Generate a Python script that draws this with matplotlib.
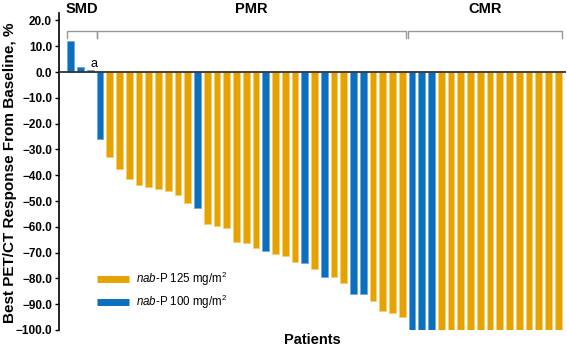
import numpy as np
import matplotlib.pyplot as plt
from matplotlib.lines import Line2D
from matplotlib.ticker import FuncFormatter

plt.rcParams['font.family'] = 'Liberation Sans'
plt.rcParams['mathtext.fontset'] = 'custom'
plt.rcParams['mathtext.rm'] = 'Liberation Sans'
plt.rcParams['mathtext.it'] = 'Liberation Sans:italic'

# best PET/CT response per patient (%), sorted
response = [12.0, 2.0, 0.6, -26.1, -33.1, -37.6, -41.6, -43.9, -44.6, -45.2,
            -46.3, -47.8, -50.8, -52.6, -58.9, -59.7, -60.6, -65.8, -66.2, -68.1,
            -69.4, -70.4, -71.2, -73.5, -73.9, -76.4, -79.3, -79.6, -81.9, -86.2,
            -86.2, -88.8, -92.6, -93.5, -94.8, -100.0, -100.0, -100.0, -100.0, -100.0,
            -100.0, -100.0, -100.0, -100.0, -100.0, -100.0, -100.0, -100.0, -100.0, -100.0,
            -100.0]
# nab-P dose per patient (mg/m2)
dose = [100, 100, 100, 100, 125, 125, 125, 125, 125, 125,
        125, 125, 125, 100, 125, 125, 125, 125, 125, 125,
        100, 125, 125, 125, 100, 125, 100, 125, 125, 100,
        100, 125, 125, 125, 125, 100, 100, 100, 125, 125,
        125, 125, 125, 125, 125, 125, 125, 125, 125, 125,
        125]
group_names = ['SMD', 'PMR', 'CMR']
group_sizes = [3, 32, 16]
annot_idx = 2  # patient marked "a"

colors = {125: '#E6A200', 100: '#0A70BE'}
edge = {125: '#F2CF70', 100: '#6FA8DA'}

fig = plt.figure(figsize=(5.67, 3.49), dpi=100)
ax = fig.add_axes([59 / 567, 19 / 349, 507 / 567, 317.3 / 349])

x = np.arange(len(response))
ax.bar(x, response, width=0.68, color=[colors[d] for d in dose],
       edgecolor=[edge[d] for d in dose], linewidth=0.6, zorder=2)
ax.axhline(0, color='#333333', linewidth=1.3, zorder=3)

ax.text(annot_idx + 0.35, 0.9, 'a', fontsize=9, ha='center', va='bottom')

# response group brackets
start = 0
bounds = []
for n in group_sizes:
    bounds.append((start, start + n - 1))
    start += n
for k, (name, (a, b)) in enumerate(zip(group_names, bounds)):
    left = a - 0.4 if k == 0 else a - 0.5 + (0.17 if k == 1 else 0.1)
    right = b + 0.4 if k == len(group_names) - 1 else b + 0.5 + (0.17 if k == 0 else -0.1)
    ax.plot([left, left, right, right], [13.3, 16.0, 16.0, 13.3],
            color='#999999', linewidth=1.0, zorder=1, clip_on=False)
    cx = (a + b) / 2 if k else 1.2
    ax.text(cx, 24.5, name, fontsize=10.5, fontweight='bold', ha='center', va='center')

ax.set_xlim(-1.2, 50.8)
ax.set_ylim(-100, 23)
ax.set_yticks(np.arange(-100, 21, 10))
ax.yaxis.set_major_formatter(FuncFormatter(lambda v, p: f'{v:.1f}'.replace('-', '\u2212')))
ax.tick_params(axis='y', labelsize=8.5, length=3, width=1, pad=2)
for lab in ax.get_yticklabels():
    lab.set_fontweight('bold')
ax.set_xticks([])
for s in ['top', 'right', 'bottom']:
    ax.spines[s].set_visible(False)
ax.spines['left'].set_linewidth(1.2)

ax.set_ylabel('Best PET/CT Response From Baseline, %', fontsize=11.0, fontweight='bold')
ax.yaxis.set_label_coords(-0.083, 0.495)
ax.set_xlabel('Patients', fontsize=10.5, fontweight='bold', labelpad=2)

handles = [Line2D([0], [0], color=colors[125], lw=5, solid_capstyle='butt'),
           Line2D([0], [0], color=colors[100], lw=5, solid_capstyle='butt')]
labels = [r'$\it{nab}$-P 125 mg/m$^2$', r'$\it{nab}$-P 100 mg/m$^2$']
ax.legend(handles, labels, loc='center left', bbox_to_anchor=(0.075, 0.125),
          frameon=False, fontsize=8.3, handlelength=2.8, handletextpad=0.6,
          labelspacing=0.45, borderpad=0, borderaxespad=0)

fig.savefig('out.png', dpi=100)
